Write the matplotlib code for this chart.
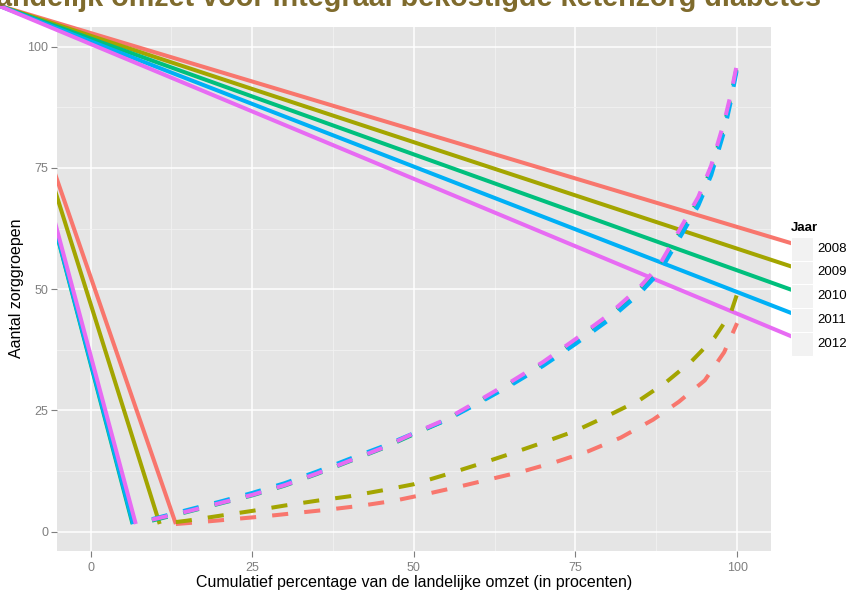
import matplotlib
matplotlib.use('Agg')
import matplotlib.pyplot as plt
from matplotlib.patches import Rectangle

plt.rcParams['font.family'] = ['Liberation Sans', 'DejaVu Sans']

# data
years = ['2008', '2009', '2010', '2011', '2012']
colors = ['#F8766D', '#A3A500', '#00BF7D', '#00B0F6', '#E76BF3']

x_2008 = [13.2, 17, 22, 27, 32, 37, 42, 47, 52, 57, 62, 67, 72, 77, 82, 87, 91, 95, 98, 100]
y_2008 = [1.6, 2.0, 2.6, 3.2, 3.9, 4.6, 5.4, 6.4, 7.8, 9.3, 10.9, 12.5, 14.4, 16.6, 19.4, 23.1, 26.8, 31.2, 37.0, 43.0]

x_2009 = [13.2, 15, 20, 25, 30, 35, 40, 45, 50, 55, 60, 65, 70, 75, 80, 85, 89, 93, 96.5, 99, 100]
y_2009 = [2.0, 2.3, 3.3, 4.3, 5.4, 6.4, 7.3, 8.5, 9.8, 11.8, 13.9, 16.1, 18.4, 20.8, 23.9, 27.2, 30.8, 35.2, 40.0, 45.0, 49.0]

x_late = [9.5, 15, 20, 25, 30, 35, 40, 45, 50, 55, 60, 65, 70, 75, 80, 85, 88, 91, 94, 96, 98, 99, 100]
y_2010 = [2.3, 4.1, 5.8, 7.5, 9.5, 11.9, 14.5, 17.1, 20.1, 23.0, 26.8, 30.6, 34.7, 39.3, 44.2, 50.0, 54.4, 61.4, 68.4, 74.8, 83.7, 89.4, 96.0]
y_2011 = [2.6, 4.5, 6.2, 8.0, 10.0, 12.4, 15.0, 17.5, 20.3, 23.0, 26.5, 30.2, 34.2, 38.7, 43.5, 49.2, 53.5, 60.3, 67.2, 73.5, 82.5, 88.5, 95.5]
y_2012 = [2.5, 4.2, 5.9, 7.6, 9.6, 12.0, 14.6, 17.2, 20.3, 23.2, 27.0, 30.9, 35.0, 39.7, 44.6, 50.5, 55.0, 62.0, 69.0, 75.5, 84.5, 90.0, 96.5]

curves_x = [x_2008, x_2009, x_late, x_late, x_late]
curves_y = [y_2008, y_2009, y_2010, y_2011, y_2012]

# stray solid lines: they all start from one point outside the panel (top left)
origin_x, origin_y = -14.5, 108.6
stub_end_x = [13.2, 10.7, 6.5, 6.6, 7.0]
stub_end_y = [1.6, 1.6, 1.6, 1.6, 1.6]

W, H = 849, 598


def fx(px):
    return px / W


def fy(py):
    return 1 - py / H


fig = plt.figure(figsize=(W / 100, H / 100), dpi=100)
ax = fig.add_axes([fx(56.7), fy(550.7), 714 / W, 524 / H])
ax.set_xlim(-5.23, 105.2)
ax.set_ylim(-3.9, 104.1)
ax.set_facecolor('#E5E5E5')
for s in ax.spines.values():
    s.set_visible(False)

ax.set_xticks([0, 25, 50, 75, 100])
ax.set_yticks([0, 25, 50, 75, 100])
ax.set_xticks([12.5, 37.5, 62.5, 87.5], minor=True)
ax.set_yticks([12.5, 37.5, 62.5, 87.5], minor=True)
ax.grid(which='major', color='white', lw=1.1)
ax.grid(which='minor', color='#F2F2F2', lw=0.6)
ax.set_axisbelow(True)
ax.tick_params(which='major', length=4, width=0.8, color='#7F7F7F',
               labelsize=9, labelcolor='#7F7F7F')
ax.tick_params(axis='x', pad=4)
ax.tick_params(axis='y', pad=2)
ax.tick_params(which='minor', length=0)

lw = 2.9

# legend keys (ggplot style), lines run into them
key_top = 236.7
key_h = 23.8
key_centers = [key_top + key_h * (i + 0.5) for i in range(len(years))]
fig.text(fx(791), fy(228), 'Jaar', fontsize=9.5, fontweight='bold', va='center', ha='left')
for i, yr in enumerate(years):
    fig.patches.append(Rectangle((fx(791), fy(key_top + key_h * (i + 1))), 22.3 / W, key_h / H,
                                 transform=fig.transFigure, facecolor='#F2F2F2',
                                 edgecolor='white', lw=0.8, zorder=0))
    fig.text(fx(817.3), fy(key_centers[i]), yr, fontsize=9.5, va='center', ha='left')

inv = ax.transData.inverted()
for i in range(len(years)):
    kx, ky = inv.transform(fig.transFigure.transform((fx(809.3), fy(key_centers[i]))))
    ax.plot([origin_x, kx], [origin_y, ky], color=colors[i], lw=lw,
            solid_capstyle='butt', clip_on=False)
    # these ones are cut at the panel edge
    ax.plot([origin_x, stub_end_x[i]], [origin_y, stub_end_y[i]], color=colors[i], lw=lw,
            solid_capstyle='butt')

for i in range(len(years)):
    ax.plot(curves_x[i], curves_y[i], color=colors[i], lw=lw, dashes=(4, 4),
            dash_capstyle='butt')

fig.text(fx(413.7), fy(583), 'Cumulatief percentage van de landelijke omzet (in procenten)',
         fontsize=11.5, ha='center', va='center')
fig.text(fx(17), fy(288.7), 'Aantal zorggroepen', fontsize=11.5, rotation=90,
         ha='center', va='center')
# title is cut off at the top in the original, kept that way
fig.text(fx(821), fy(6), 'landelijk omzet voor integraal bekostigde ketenzorg diabetes',
         fontsize=20.7, fontweight='bold', color='#7F6B2D', ha='right', va='baseline')

fig.savefig('out.png', dpi=100)
